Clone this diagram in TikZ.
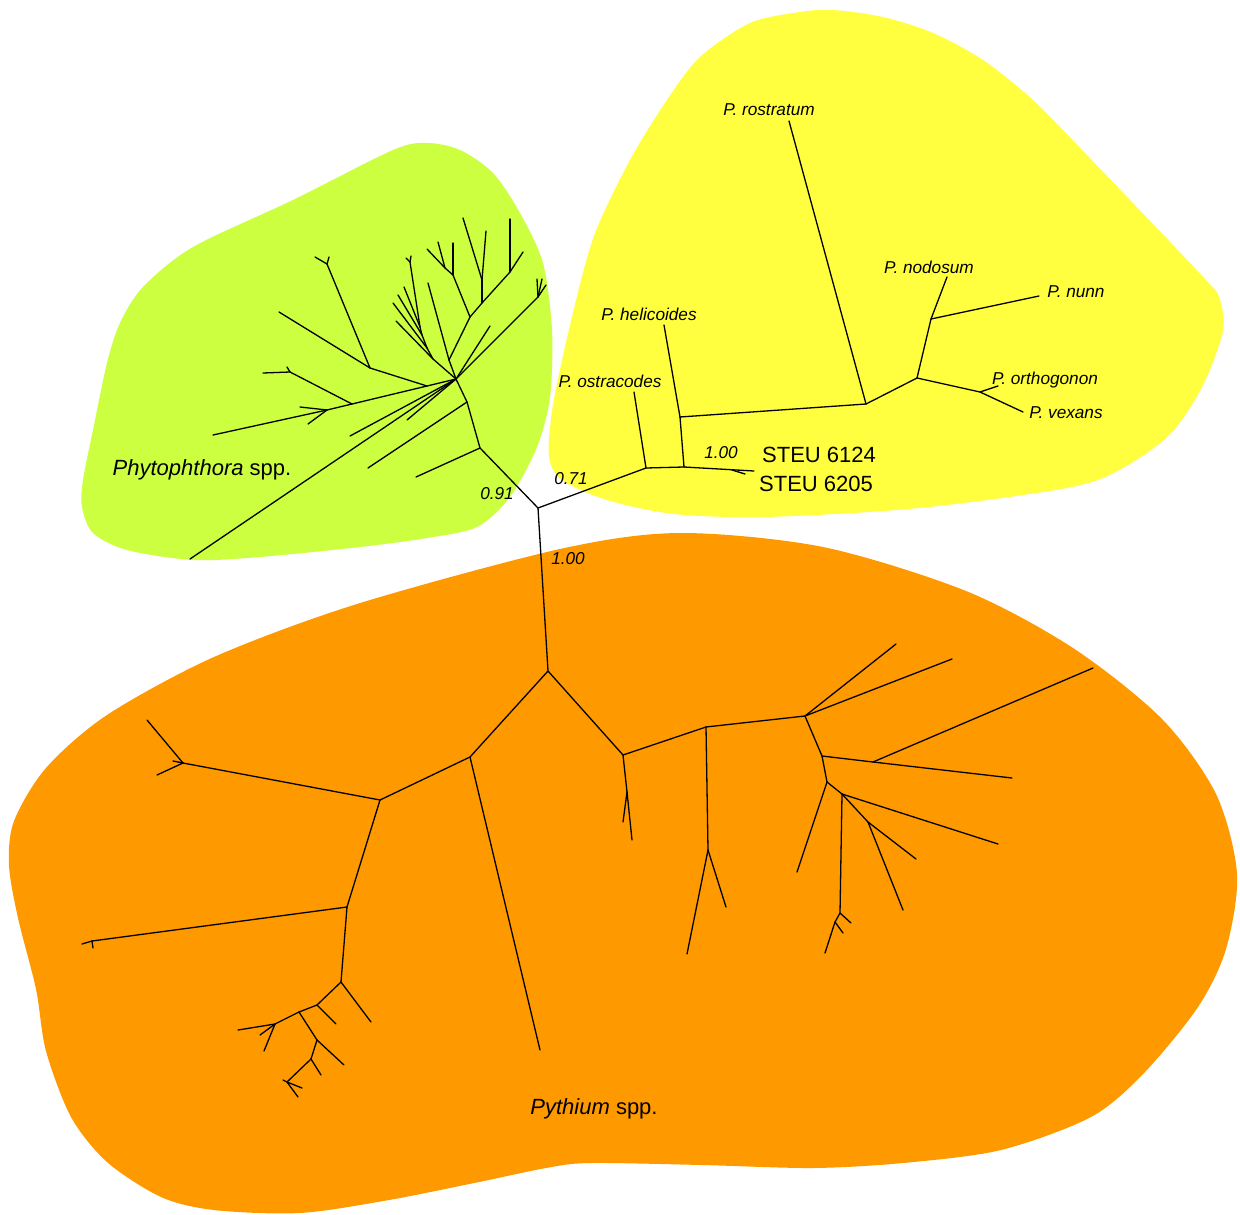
\documentclass[tikz,border=0pt]{standalone}
\usepackage{fontspec}
\setmainfont{Liberation Sans}
\definecolor{phytogreen}{RGB}{204,255,64}
\definecolor{helyellow}{RGB}{255,255,64}
\definecolor{pythorange}{RGB}{255,153,0}
\tikzset{
  branch/.style={line width=0.65pt, line cap=round, line join=round},
  taxon/.style={font=\fontsize{8.6}{10}\selectfont\itshape, inner sep=1pt},
  support/.style={font=\fontsize{8.6}{10}\selectfont\itshape, inner sep=1pt},
  isolate/.style={font=\fontsize{11}{13}\selectfont, inner sep=1pt},
  clade/.style={font=\fontsize{11}{13}\selectfont, inner sep=1pt},
}
\begin{document}
\begin{tikzpicture}[x=0.5pt, y=-0.5pt]
    \useasboundingbox (0,0) rectangle (1240,1214);

    % Draw clade areas
    \fill[phytogreen] plot[smooth cycle] coordinates {
        (427,143) (393,150) (293,200) (193,247) (143,287) (120,323) (107,363)
        (93,430) (83,480) (82,507) (93,533) (127,550) (193,560) (260,557)
        (360,547) (427,538) (477,527) (510,497) (537,447) (550,397) (552,330)
        (543,263) (520,213) (493,173) (460,150)};
    \fill[helyellow] plot[smooth cycle] coordinates {
        (833,10) (800,12) (750,23) (700,57) (667,100) (630,160) (594,236)
        (571,321) (553,405) (549,456) (562,480) (607,500) (674,514) (763,517)
        (897,510) (1009,497) (1098,480) (1165,439) (1201,389) (1223,331)
        (1219,297) (1206,280) (1150,221) (1083,151) (1033,100) (983,60)
        (933,33) (883,17)};
    \fill[pythorange] plot[smooth cycle] coordinates {
        (560,549) (357,604) (214,657) (107,715) (46,768) (14,821) (9,865)
        (18,918) (36,989) (46,1051) (71,1117) (107,1162) (161,1197) (214,1210)
        (300,1213) (389,1200) (479,1182) (546,1168) (590,1163) (702,1165)
        (813,1168) (903,1163) (1001,1150) (1091,1117) (1144,1073) (1198,1007)
        (1226,949) (1237,874) (1216,794) (1162,719) (1073,648) (966,591)
        (823,547) (680,533)};

    % Backbone
    \coordinate (c) at (538,508);
    \coordinate (ph0) at (480,448);
    \coordinate (ye0) at (646,468);
    \coordinate (py0) at (548,671);

    % Yellow clade
    \coordinate (ye1) at (684,467);
    \coordinate (ye2) at (680,417);
    \coordinate (ye3) at (866,404);
    \coordinate (ye4) at (917,378);
    \coordinate (ye5) at (931,319);
    \coordinate (ye6) at (980,392);
    \coordinate (st) at (732,470);
    \coordinate (ostr) at (634,392);
    \coordinate (heli) at (664,325);
    \coordinate (rost) at (789,121);
    \coordinate (nodo) at (947,277);
    \coordinate (nunn) at (1039,296);
    \coordinate (orth) at (998,386);
    \coordinate (vex) at (1023,412);
    \coordinate (steuA) at (754,471);
    \coordinate (steuB) at (745,474);

    % Phytophthora clade
    \coordinate (ph1) at (467,402);
    \coordinate (hub) at (456,379);
    \coordinate (ph2) at (427,386);
    \coordinate (ph3) at (370,368);
    \coordinate (ph4) at (327,264);
    \coordinate (ph5) at (352,404);
    \coordinate (ph6) at (290,372);
    \coordinate (ph7) at (327,410);
    \coordinate (pb1) at (433,359);
    \coordinate (pb2) at (427,348);
    \coordinate (pb3) at (422,335);
    \coordinate (pb4) at (420,327);
    \coordinate (pb5) at (410,262);
    \coordinate (pb6) at (449,360);
    \coordinate (pb7) at (470,317);
    \coordinate (pb8) at (453,275);
    \coordinate (pb9) at (445,268);
    \coordinate (pb10) at (482,303);
    \coordinate (pb11) at (482,280);
    \coordinate (pb12) at (510,272);
    \coordinate (pb13) at (538,297);
    \coordinate (phl1) at (416,477);
    \coordinate (phl2) at (368,468);
    \coordinate (phl3) at (190,559);
    \coordinate (phl4) at (350,436);
    \coordinate (phl5) at (407,420);
    \coordinate (phl6) at (279,312);
    \coordinate (phl7) at (315,257);
    \coordinate (phl8) at (329,257);
    \coordinate (phl9) at (263,373);
    \coordinate (phl10) at (287,367);
    \coordinate (phl11) at (213,435);
    \coordinate (phl12) at (300,407);
    \coordinate (phl13) at (308,424);
    \coordinate (pbl1) at (396,321);
    \coordinate (pbl2) at (393,303);
    \coordinate (pbl3) at (398,295);
    \coordinate (pbl4) at (404,287);
    \coordinate (pbl5) at (411,256);
    \coordinate (pbl6) at (406,258);
    \coordinate (pbl7) at (428,283);
    \coordinate (pbl8) at (453,243);
    \coordinate (pbl9) at (427,249);
    \coordinate (pbl10) at (438,242);
    \coordinate (pbl11) at (463,218);
    \coordinate (pbl12) at (486,231);
    \coordinate (pbl13) at (510,219);
    \coordinate (pbl14) at (523,252);
    \coordinate (pbl15) at (490,326);
    \coordinate (pbl16) at (537,279);
    \coordinate (pbl17) at (542,279);
    \coordinate (pbl18) at (546,285);

    % Pythium clade
    \coordinate (py1) at (470,757);
    \coordinate (py2) at (623,755);
    \coordinate (py3) at (380,800);
    \coordinate (py4) at (183,763);
    \coordinate (py5) at (347,907);
    \coordinate (py6) at (92,941);
    \coordinate (py7) at (341,982);
    \coordinate (py8) at (317,1005);
    \coordinate (py9) at (299,1012);
    \coordinate (py10) at (275,1024);
    \coordinate (py11) at (317,1040);
    \coordinate (py12) at (311,1059);
    \coordinate (py13) at (287,1082);
    \coordinate (py14) at (627,792);
    \coordinate (py15) at (706,727);
    \coordinate (py16) at (708,850);
    \coordinate (py17) at (805,716);
    \coordinate (py18) at (822,756);
    \coordinate (py19) at (873,762);
    \coordinate (py20) at (827,782);
    \coordinate (py21) at (842,794);
    \coordinate (py22) at (868,822);
    \coordinate (py24) at (840,913);
    \coordinate (py25) at (835,922);
    \coordinate (pyl1) at (540,1050);
    \coordinate (pyl2) at (147,720);
    \coordinate (pyl3) at (157,775);
    \coordinate (pyl4) at (173,761);
    \coordinate (pyl5) at (82,944);
    \coordinate (pyl6) at (93,948);
    \coordinate (pyl7) at (371,1022);
    \coordinate (pyl8) at (336,1024);
    \coordinate (pyl9) at (238,1030);
    \coordinate (pyl10) at (260,1035);
    \coordinate (pyl11) at (264,1051);
    \coordinate (pyl12) at (344,1065);
    \coordinate (pyl13) at (321,1075);
    \coordinate (pyl14) at (302,1088);
    \coordinate (pyl15) at (298,1097);
    \coordinate (pyl16) at (283,1080);
    \coordinate (pyl17) at (632,840);
    \coordinate (pyl18) at (623,822);
    \coordinate (pyl19) at (687,954);
    \coordinate (pyl20) at (726,907);
    \coordinate (pyl21) at (896,644);
    \coordinate (pyl22) at (952,659);
    \coordinate (pyl23) at (1093,668);
    \coordinate (pyl24) at (1012,778);
    \coordinate (pyl25) at (797,872);
    \coordinate (pyl26) at (998,844);
    \coordinate (pyl27) at (916,859);
    \coordinate (pyl28) at (903,910);
    \coordinate (pyl29) at (851,923);
    \coordinate (pyl30) at (843,933);
    \coordinate (pyl31) at (825,953);

    % Draw branches
    \foreach \a/\b in {c/ph0, c/ye0, c/py0,
        ye0/ostr, ye0/ye1, ye1/ye2, ye1/steuA, st/steuB, ye2/heli, ye2/ye3,
        ye3/rost, ye3/ye4, ye4/ye5, ye5/nodo, ye5/nunn, ye4/ye6, ye6/orth, ye6/vex}
        \draw[branch] (\a) -- (\b);
    \foreach \a/\b in {ph0/phl1, ph0/ph1, ph1/phl2, ph1/hub,
        hub/phl3, hub/phl4, hub/phl5, hub/ph2, ph2/ph3, ph3/phl6, ph3/ph4,
        ph4/phl7, ph4/phl8, ph2/ph5, ph5/ph6, ph6/phl9, ph6/phl10, ph5/ph7,
        ph7/phl11, ph7/phl12, ph7/phl13,
        hub/pb1, pb1/pbl1, pb1/pb2, pb2/pbl2, pb2/pb3, pb3/pbl3, pb3/pb4,
        pb4/pbl4, pb4/pb5, pb5/pbl5, pb5/pbl6,
        hub/pb6, pb6/pbl7, pb6/pb7, pb7/pb8, pb8/pbl8, pb8/pb9, pb9/pbl9,
        pb9/pbl10, pb7/pb10, pb10/pb11, pb11/pbl11, pb11/pbl12, pb10/pb12,
        pb12/pbl13, pb12/pbl14, hub/pbl15, hub/pb13, pb13/pbl16, pb13/pbl17,
        pb13/pbl18}
        \draw[branch] (\a) -- (\b);
    \foreach \a/\b in {py0/py1, py0/py2, py1/pyl1, py1/py3, py3/py4,
        py4/pyl2, py4/pyl3, py4/pyl4, py3/py5, py5/py6, py6/pyl5, py6/pyl6,
        py5/py7, py7/pyl7, py7/py8, py8/pyl8, py8/py9, py9/py10, py10/pyl9,
        py10/pyl10, py10/pyl11, py9/py11, py11/pyl12, py11/py12, py12/pyl13,
        py12/py13, py13/pyl14, py13/pyl15, py13/pyl16,
        py2/py14, py14/pyl17, py14/pyl18, py2/py15, py15/py16, py16/pyl19,
        py16/pyl20, py15/py17, py17/pyl21, py17/pyl22, py17/py18, py18/py19,
        py19/pyl23, py19/pyl24, py18/py20, py20/pyl25, py20/py21, py21/pyl26,
        py21/py22, py22/pyl27, py22/pyl28, py21/py24, py24/pyl29, py24/py25,
        py25/pyl30, py25/pyl31}
        \draw[branch] (\a) -- (\b);

    % Taxon labels
    \node[taxon] (lrost) at (769,110) {P. rostratum};
    \node[taxon] (lnodo) at (929,267) {P. nodosum};
    \node[taxon] (lnunn) at (1076,292) {P. nunn};
    \node[taxon] (lorth) at (1045,380) {P. orthogonon};
    \node[taxon] (lvex) at (1066,413) {P. vexans};
    \node[taxon] (lheli) at (649,314) {P. helicoides};
    \node[taxon] (lostr) at (610,381) {P. ostracodes};
    \node[isolate] (lsteuA) at (819,455) {STEU 6124};
    \node[isolate] (lsteuB) at (816,484) {STEU 6205};

    % Support values
    \node[support] (s091) at (497,494) {0.91};
    \node[support] (s071) at (571,479) {0.71};
    \node[support] (s100a) at (568,559) {1.00};
    \node[support] (s100b) at (721,453) {1.00};

    % Clade names
    \node[clade] (lphyto) at (202,470) {\textit{Phytophthora} spp.};
    \node[clade] (lpyth) at (594,1109) {\textit{Pythium} spp.};
\end{tikzpicture}
\end{document}
